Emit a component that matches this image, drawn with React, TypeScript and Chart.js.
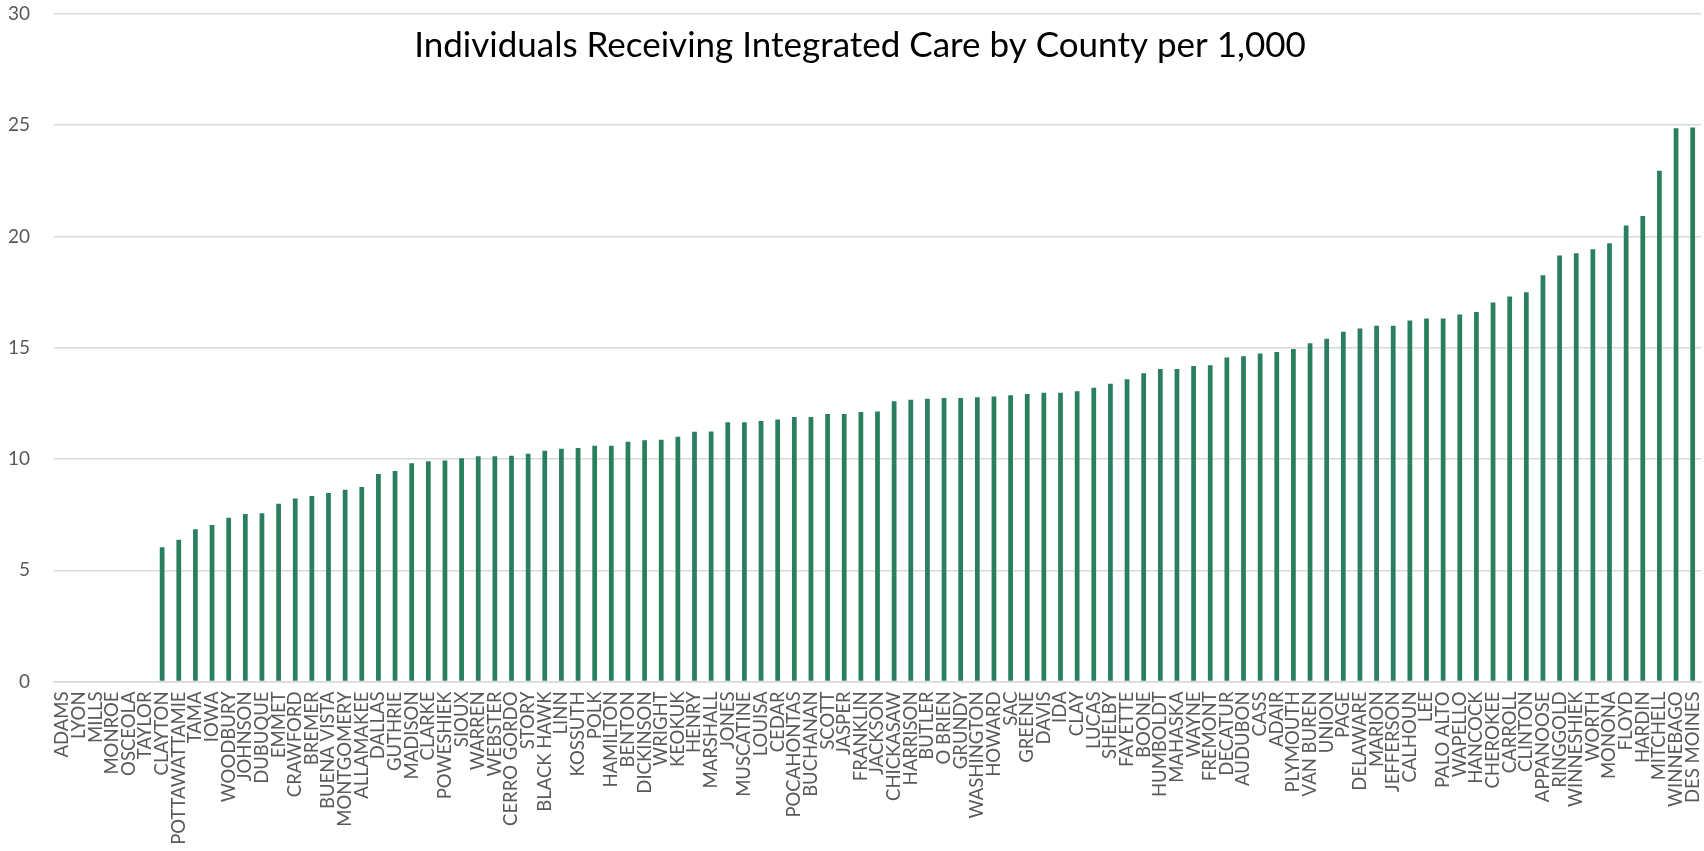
import React, { useEffect, useRef } from "react";
import { Chart, registerables } from "chart.js";

Chart.register(...registerables);

const counties: string[] = [
  "ADAMS", "LYON", "MILLS", "MONROE", "OSCEOLA", "TAYLOR", "CLAYTON", "POTTAWATTAMIE", "TAMA", "IOWA",
  "WOODBURY", "JOHNSON", "DUBUQUE", "EMMET", "CRAWFORD", "BREMER", "BUENA VISTA", "MONTGOMERY", "ALLAMAKEE", "DALLAS",
  "GUTHRIE", "MADISON", "CLARKE", "POWESHIEK", "SIOUX", "WARREN", "WEBSTER", "CERRO GORDO", "STORY", "BLACK HAWK",
  "LINN", "KOSSUTH", "POLK", "HAMILTON", "BENTON", "DICKINSON", "WRIGHT", "KEOKUK", "HENRY", "MARSHALL",
  "JONES", "MUSCATINE", "LOUISA", "CEDAR", "POCAHONTAS", "BUCHANAN", "SCOTT", "JASPER", "FRANKLIN", "JACKSON",
  "CHICKASAW", "HARRISON", "BUTLER", "O BRIEN", "GRUNDY", "WASHINGTON", "HOWARD", "SAC", "GREENE", "DAVIS",
  "IDA", "CLAY", "LUCAS", "SHELBY", "FAYETTE", "BOONE", "HUMBOLDT", "MAHASKA", "WAYNE", "FREMONT",
  "DECATUR", "AUDUBON", "CASS", "ADAIR", "PLYMOUTH", "VAN BUREN", "UNION", "PAGE", "DELAWARE", "MARION",
  "JEFFERSON", "CALHOUN", "LEE", "PALO ALTO", "WAPELLO", "HANCOCK", "CHEROKEE", "CARROLL", "CLINTON", "APPANOOSE",
  "RINGGOLD", "WINNESHIEK", "WORTH", "MONONA", "FLOYD", "HARDIN", "MITCHELL", "WINNEBAGO", "DES MOINES",
];

const ratePer1000: number[] = [
  0, 0, 0, 0, 0, 0, 6.03, 6.37, 6.84, 7.03,
  7.36, 7.53, 7.56, 7.99, 8.22, 8.34, 8.47, 8.62, 8.74, 9.33,
  9.46, 9.81, 9.9, 9.93, 10.03, 10.12, 10.12, 10.15, 10.24, 10.37,
  10.46, 10.49, 10.6, 10.6, 10.78, 10.84, 10.87, 11.0, 11.22, 11.24,
  11.65, 11.65, 11.71, 11.78, 11.89, 11.89, 12.02, 12.02, 12.11, 12.14,
  12.6, 12.66, 12.71, 12.74, 12.74, 12.78, 12.81, 12.86, 12.92, 12.98,
  12.98, 13.04, 13.2, 13.38, 13.58, 13.85, 14.04, 14.04, 14.18, 14.21,
  14.56, 14.62, 14.74, 14.81, 14.94, 15.2, 15.4, 15.72, 15.86, 15.99,
  15.99, 16.22, 16.31, 16.32, 16.5, 16.61, 17.03, 17.3, 17.5, 18.26,
  19.15, 19.25, 19.43, 19.7, 20.5, 20.92, 22.95, 24.87, 24.9,
];

const yTicks: number[] = [0, 5, 10, 15, 20, 25, 30];

const chartTitle = "Individuals Receiving Integrated Care by County per 1,000";

const FONT = "Lato, 'Open Sans', sans-serif";

const titlePlugin = {
  id: "overlayTitle",
  afterDraw(chart: any) {
    const ctx = chart.ctx;
    ctx.save();
    ctx.font = `35px ${FONT}`;
    ctx.fillStyle = "#000000";
    ctx.textAlign = "center";
    ctx.textBaseline = "alphabetic";
    ctx.fillText(chartTitle, 860, 57);
    ctx.restore();
  },
};

export default function App() {
  const canvasRef = useRef<HTMLCanvasElement | null>(null);

  useEffect(() => {
    if (!canvasRef.current) return;
    const chart = new Chart(canvasRef.current, {
      type: "bar",
      data: {
        labels: counties,
        datasets: [
          {
            label: "Per 1,000",
            data: ratePer1000,
            backgroundColor: "#2a7f5f",
            borderWidth: 0,
            barPercentage: 0.2857,
            categoryPercentage: 1,
          },
        ],
      },
      options: {
        animation: false,
        responsive: false,
        maintainAspectRatio: false,
        layout: { padding: { top: 14, right: 3, left: 0, bottom: 0 } },
        plugins: {
          legend: { display: false },
          title: { display: false },
          tooltip: { enabled: false },
        },
        scales: {
          x: {
            afterFit(scale: any) {
              scale.height = 169.5;
              scale.paddingLeft = 0;
              scale.paddingRight = 0;
            },
            grid: { display: true, color: "rgba(0,0,0,0)", drawTicks: false },
            border: { display: true, color: "#d9d9d9", width: 1.5 },
            ticks: {
              autoSkip: false,
              maxRotation: 90,
              minRotation: 90,
              padding: 10,
              color: "#595959",
              font: { family: FONT, size: 18.5 },
            },
          },
          y: {
            min: 0,
            max: 30,
            afterFit(scale: any) {
              scale.width = 54;
              scale.paddingTop = 0;
              scale.paddingBottom = 0;
            },
            afterBuildTicks(scale: any) {
              scale.ticks = yTicks.map((v) => ({ value: v }));
            },
            grid: { color: "#d9d9d9", lineWidth: 1.5, drawTicks: false },
            border: { display: false },
            ticks: {
              padding: 24,
              color: "#595959",
              font: { family: FONT, size: 19 },
            },
          },
        },
      },
      plugins: [titlePlugin],
    });
    return () => chart.destroy();
  }, []);

  return (
    <div style={{ position: "fixed", left: 0, top: 0, width: 1704, height: 851, background: "#ffffff" }}>
      <canvas ref={canvasRef} width={1704} height={851} style={{ width: 1704, height: 851, display: "block" }} />
    </div>
  );
}
